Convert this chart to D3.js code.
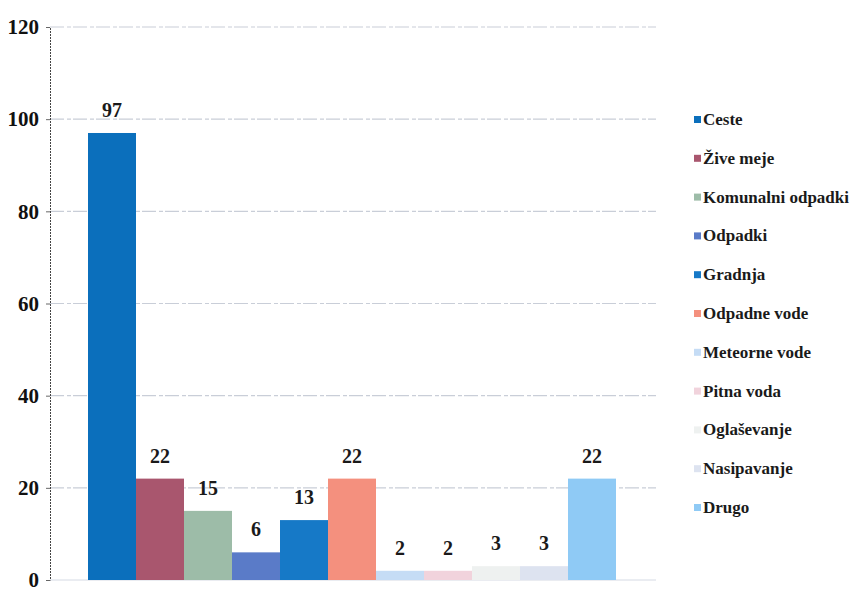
<!DOCTYPE html>
<html>
<head>
<meta charset="utf-8">
<script src="https://cdn.jsdelivr.net/npm/d3@7"></script>
<style>
  body { margin: 0; background: #ffffff; }
</style>
</head>
<body>
<svg id="chart" width="863" height="591"></svg>
<script>
const categories = ["Ceste", "Žive meje", "Komunalni odpadki", "Odpadki", "Gradnja", "Odpadne vode", "Meteorne vode", "Pitna voda", "Oglaševanje", "Nasipavanje", "Drugo"];
const values = [97, 22, 15, 6, 13, 22, 2, 2, 3, 3, 22];
const colors = ["#0b6fbc", "#a9566e", "#9dbca8", "#5a7bc8", "#1679c7", "#f4907e", "#c5dcf5", "#f1d3dc", "#eef1f0", "#dde3f0", "#8fcaf5"];
const yTicks = [0, 20, 40, 60, 80, 100, 120];

const FONT = "'Liberation Serif', 'Times New Roman', 'DejaVu Serif', serif";

const svg = d3.select("#chart");
const plot = { left: 50, right: 656, top: 27, bottom: 580 };
const barsLeft = 88, barsRight = 616;

const y = d3.scaleLinear().domain([0, 120]).range([plot.bottom, plot.top]);
const x = d3.scaleBand().domain(categories).range([barsLeft, barsRight]).paddingInner(0).paddingOuter(0);

// gridlines
svg.append("g")
  .selectAll("line")
  .data(yTicks.filter(d => d > 0))
  .join("line")
  .attr("x1", plot.left).attr("x2", plot.right)
  .attr("y1", d => y(d)).attr("y2", d => y(d))
  .attr("stroke", "#c9ced8")
  .attr("stroke-width", 1.2)
  .attr("stroke-dasharray", "14,3,4,2");

// y axis
const yAxis = d3.axisLeft(y).tickValues(yTicks).tickSize(4).tickPadding(7);
const gy = svg.append("g").attr("transform", `translate(${plot.left},0)`).call(yAxis);
gy.attr("font-family", FONT);
gy.select(".domain").attr("stroke", "#444").attr("stroke-dasharray", "2,1").attr("stroke-width", 1);
gy.selectAll(".tick line").attr("stroke", "#666");
gy.selectAll(".tick text")
  .attr("font-size", 21)
  .style("font-family", FONT)
  .attr("font-weight", "bold")
  .attr("fill", "#111");

// x baseline
svg.append("line")
  .attr("x1", plot.left).attr("x2", plot.right)
  .attr("y1", y(0)).attr("y2", y(0))
  .attr("stroke", "#d5dae4").attr("stroke-width", 1);

// bars
svg.append("g")
  .selectAll("rect")
  .data(categories)
  .join("rect")
  .attr("x", d => x(d))
  .attr("width", x.bandwidth())
  .attr("y", (d, i) => y(values[i]))
  .attr("height", (d, i) => y(0) - y(values[i]))
  .attr("fill", (d, i) => colors[i]);

// value labels
svg.append("g")
  .selectAll("text")
  .data(categories)
  .join("text")
  .attr("x", d => x(d) + x.bandwidth() / 2)
  .attr("y", (d, i) => y(values[i]) - 16)
  .attr("text-anchor", "middle")
  .style("font-family", FONT)
  .attr("font-weight", "bold")
  .attr("font-size", 20)
  .attr("fill", "#1a1a1a")
  .text((d, i) => values[i]);

// legend
const legend = svg.append("g").attr("transform", "translate(694,0)");
const rows = legend.selectAll("g")
  .data(categories)
  .join("g")
  .attr("transform", (d, i) => `translate(0,${120 + i * 38.8})`);
rows.append("rect")
  .attr("x", 0).attr("y", -4).attr("width", 7).attr("height", 7)
  .attr("fill", (d, i) => colors[i]);
rows.append("text")
  .attr("x", 9).attr("y", 5)
  .style("font-family", FONT)
  .attr("font-weight", "bold")
  .attr("font-size", 17)
  .attr("fill", "#1a1a1a")
  .text(d => d);
</script>
</body>
</html>
